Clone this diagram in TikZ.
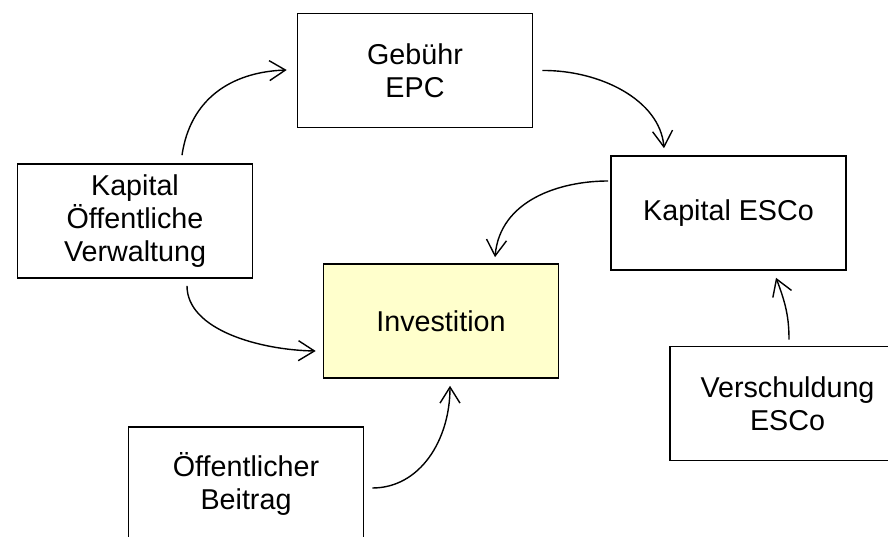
\documentclass[tikz,border=0pt]{standalone}
\usepackage{fontspec}
\setmainfont{Liberation Sans}
\usetikzlibrary{arrows.meta}
\definecolor{invfill}{HTML}{FFFFCC}
\tikzset{
  box/.style={draw=black, line width=1.6pt, fill=white, minimum width=235pt, minimum height=114pt,
    align=center, inner sep=0pt, font=\fontsize{28.7}{33}\selectfont},
  flow/.style={line width=1.4pt, -{Straight Barb[length=16pt,width=20pt]}}
}
\begin{document}
\begin{tikzpicture}[x=1pt,y=-1pt]
\useasboundingbox (0,0) rectangle (888,537);
\clip (0,0) rectangle (888,537);
\node[box] (geb) at (415,70.5) {Gebühr\\EPC};
\node[box] (kov) at (135,221) {Kapital\\Öffentliche\\Verwaltung};
\node[box] (kesco) at (728.5,213) {Kapital ESCo};
\node[box, fill=invfill] (inv) at (441,321) {Investition};
\node[box] (oeb) at (246,484) {Öffentlicher\\Beitrag};
\node[box] (vesco) at (787.5,403.5) {Verschuldung\\ESCo};

\draw[flow] ([xshift=47pt,yshift=8pt]kov.north) .. controls (190,100) and (230,72) .. ([xshift=-10pt,yshift=0.5pt]geb.west);
\draw[flow] ([xshift=9pt]geb.east) .. controls (600,70) and (660,100) .. ([xshift=-64.5pt,yshift=7pt]kesco.north);
\draw[flow] ([xshift=-2pt,yshift=32pt]kesco.west) .. controls (560,181) and (500,200) .. ([xshift=54pt,yshift=6pt]inv.north);
\draw[flow] ([xshift=52pt,yshift=-7pt]kov.south) .. controls (187,330) and (260,350) .. ([xshift=-7pt,yshift=-30pt]inv.west);
\draw[flow] ([xshift=8pt,yshift=-4pt]oeb.east) .. controls (420,488) and (450,440) .. ([xshift=9pt,yshift=-7pt]inv.south);
\draw[flow] ([xshift=1.5pt,yshift=6pt]vesco.north) .. controls (789,318) and (786,304) .. ([xshift=47.5pt,yshift=-7pt]kesco.south);
\end{tikzpicture}
\end{document}
